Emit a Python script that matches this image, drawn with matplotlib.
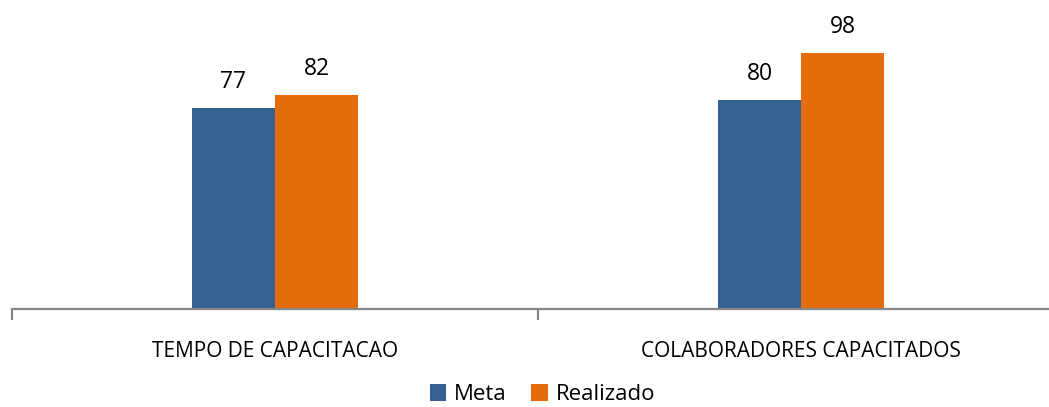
import matplotlib.pyplot as plt
import numpy as np

categorias = ["TEMPO DE CAPACITACAO", "COLABORADORES CAPACITADOS"]
meta = [77, 80]
realizado = [82, 98]

cor_meta = "#376092"
cor_real = "#E46C0A"

plt.rcParams['font.family'] = ['Open Sans', 'DejaVu Sans']

fig = plt.figure(figsize=(10.49, 4.07), dpi=100)
# eixo vai um pouco alem da borda direita, como no original
ax = fig.add_axes([12/1049, 98/407, 1052/1049, 287.3/407])

x = np.arange(len(categorias))
w = 0.158
b1 = ax.bar(x - w/2, meta, w, color=cor_meta, label="Meta")
b2 = ax.bar(x + w/2, realizado, w, color=cor_real, label="Realizado")

ax.bar_label(b1, padding=10, fontsize=16.5, color="#000000")
ax.bar_label(b2, padding=10, fontsize=16.5, color="#000000")

ax.set_xlim(-0.5, 1.5)
ax.set_ylim(0, 110)

for s in ["top", "right", "left"]:
    ax.spines[s].set_visible(False)
ax.spines["bottom"].set_color("#868686")
ax.spines["bottom"].set_linewidth(1.6)
ax.set_yticks([])

ax.set_xticks([-0.5, 0.5, 1.5], minor=False)
ax.set_xticklabels([])
ax.tick_params(axis="x", which="major", length=8, width=1.6, color="#868686", direction="out")
ax.set_xticks(x, minor=True)
ax.set_xticklabels(categorias, minor=True, fontsize=15)
ax.tick_params(axis="x", which="minor", length=0, pad=23)

fig.legend(handles=[b1, b2], labels=["Meta", "Realizado"], loc="lower center",
           bbox_to_anchor=(0.517, -0.045), ncol=2, frameon=False, fontsize=16,
           handlelength=0.75, handleheight=0.75, handletextpad=0.35, columnspacing=1.1)

fig.savefig("out.png", dpi=100)
